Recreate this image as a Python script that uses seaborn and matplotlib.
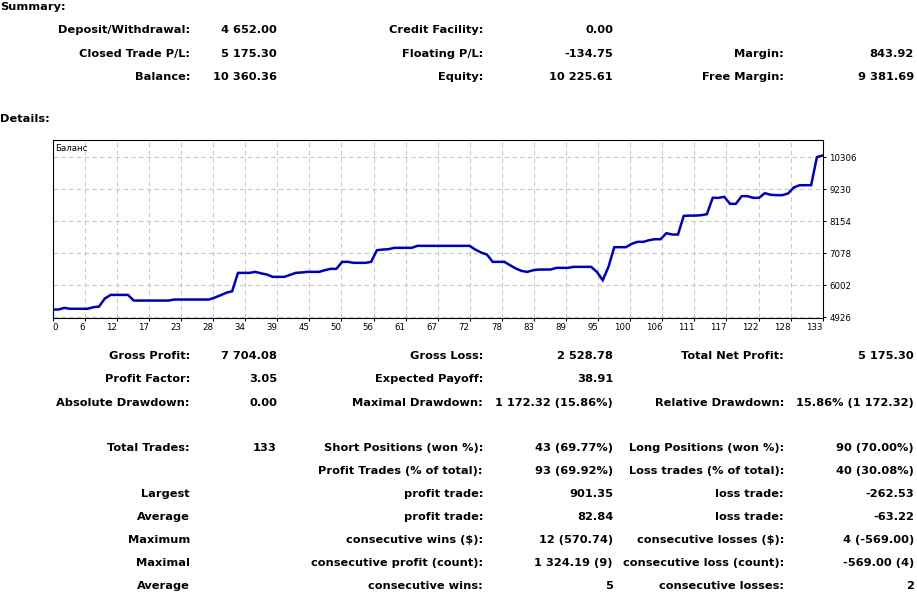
import matplotlib
matplotlib.use("Agg")
import matplotlib.pyplot as plt
import seaborn as sns
import pandas as pd

# ---------------- data ----------------
balance = [
    5185, 5185, 5240, 5210, 5210, 5210, 5210, 5262, 5284, 5553,
    5676, 5676, 5676, 5676, 5486, 5486, 5486, 5486, 5486, 5486,
    5486, 5520, 5520, 5520, 5520, 5520, 5520, 5520, 5587, 5665,
    5750, 5800, 6416, 6416, 6416, 6450, 6400, 6360, 6282, 6282,
    6282, 6350, 6416, 6430, 6450, 6450, 6450, 6506, 6551, 6551,
    6786, 6786, 6753, 6753, 6753, 6786, 7178, 7200, 7212, 7257,
    7257, 7257, 7257, 7324, 7324, 7324, 7324, 7324, 7324, 7324,
    7324, 7324, 7324, 7200, 7100, 7032, 6786, 6786, 6786, 6674,
    6562, 6480, 6450, 6506, 6528, 6528, 6528, 6584, 6584, 6584,
    6618, 6618, 6618, 6618, 6450, 6170, 6618, 7279, 7279, 7279,
    7391, 7458, 7458, 7514, 7547, 7547, 7749, 7704, 7704, 8332,
    8340, 8340, 8354, 8388, 8937, 8937, 8971, 8735, 8735, 8993,
    8993, 8937, 8937, 9094, 9040, 9027, 9027, 9083, 9284, 9362,
    9362, 9362, 10306, 10360.36,
]
y_ticks = [4926, 6002, 7078, 8154, 9230, 10306]
x_labels = ["0", "6", "12", "17", "23", "28", "34", "39", "45", "50", "56", "61",
            "67", "72", "78", "83", "89", "95", "100", "106", "111", "117", "122",
            "128", "133"]
series_name = "Баланс"

summary_labels_1 = ["Deposit/Withdrawal:", "Closed Trade P/L:", "Balance:"]
summary_values_1 = ["4 652.00", "5 175.30", "10 360.36"]
summary_labels_2 = ["Credit Facility:", "Floating P/L:", "Equity:"]
summary_values_2 = ["0.00", "-134.75", "10 225.61"]
summary_labels_3 = ["", "Margin:", "Free Margin:"]
summary_values_3 = ["", "843.92", "9 381.69"]

details_labels_1 = ["Gross Profit:", "Profit Factor:", "Absolute Drawdown:", "Total Trades:", "",
                    "Largest", "Average", "Maximum", "Maximal", "Average"]
details_values_1 = ["7 704.08", "3.05", "0.00", "133", "", "", "", "", "", ""]
details_labels_2 = ["Gross Loss:", "Expected Payoff:", "Maximal Drawdown:", "Short Positions (won %):",
                    "Profit Trades (% of total):", "profit trade:", "profit trade:",
                    "consecutive wins ($):", "consecutive profit (count):", "consecutive wins:"]
details_values_2 = ["2 528.78", "38.91", "1 172.32 (15.86%)", "43 (69.77%)", "93 (69.92%)",
                    "901.35", "82.84", "12 (570.74)", "1 324.19 (9)", "5"]
details_labels_3 = ["Total Net Profit:", "", "Relative Drawdown:", "Long Positions (won %):",
                    "Loss trades (% of total):", "loss trade:", "loss trade:",
                    "consecutive losses ($):", "consecutive loss (count):", "consecutive losses:"]
details_values_3 = ["5 175.30", "", "15.86% (1 172.32)", "90 (70.00%)", "40 (30.08%)",
                    "-262.53", "-63.22", "4 (-569.00)", "-569.00 (4)", "2"]

# ---------------- style ----------------
sns.set_style("white")
plt.rcParams['font.family'] = ['DejaVu Sans']

W, H = 917, 596
fig = plt.figure(figsize=(W / 100, H / 100), dpi=100)
fig.patch.set_facecolor("white")

FS = 8.2
FW = "bold"


def put(x, y, s, ha="right"):
    if s:
        fig.text(x / W, 1 - y / H, s, ha=ha, va="baseline", fontsize=FS,
                 fontweight=FW, color="black")


put(0, 10, "Summary:", ha="left")
put(0, 122.3, "Details:", ha="left")

sum_base = [33.3, 56.6, 80.0]
cols = [(190, 277), (483, 613), (784, 914)]
for lbls, vals, (cx, vx) in zip([summary_labels_1, summary_labels_2, summary_labels_3],
                                [summary_values_1, summary_values_2, summary_values_3], cols):
    for yb, l, v in zip(sum_base, lbls, vals):
        put(cx, yb, l)
        put(vx, yb, v)

det_base = [359, 382.3, 405.7, 451, 474, 497, 520, 543.3, 566, 589.3]
for lbls, vals, (cx, vx) in zip([details_labels_1, details_labels_2, details_labels_3],
                                [details_values_1, details_values_2, details_values_3], cols):
    for yb, l, v in zip(det_base, lbls, vals):
        put(cx, yb, l)
        put(vx, yb, v)

# ---------------- chart ----------------
left, right, top, bottom = 52.7, 822.7, 140.3, 318.3
ax = fig.add_axes([left / W, 1 - bottom / H, (right - left) / W, (bottom - top) / H])
df = pd.DataFrame({"trade": list(range(len(balance))), "balance": balance})
sns.lineplot(data=df, x="trade", y="balance", ax=ax, color="#0000b4",
             linewidth=1.8, solid_joinstyle="miter")
ax.set_xlabel("")
ax.set_ylabel("")
ax.set_xlim(0, len(balance) - 1)
ax.set_ylim(4890, 10870)

ax.set_yticks(y_ticks)
ax.set_yticklabels([str(v) for v in y_ticks])
ax.yaxis.tick_right()
xt = [(len(balance) - 1) * k / (len(x_labels) - 1) for k in range(len(x_labels))]
ax.set_xticks(xt)
ax.set_xticklabels(x_labels)
for i, lab in enumerate(ax.get_xticklabels()):
    lab.set_ha("left" if i == 0 else "right")

ax.tick_params(axis="both", which="both", direction="out", length=2.2, width=0.75,
               labelsize=6.2, colors="black", pad=1.5)
ax.tick_params(axis="y", pad=2.5, left=False, right=True)
ax.tick_params(axis="x", bottom=True, top=False)
ax.grid(True, color="#c8c8c8", linestyle=(0, (4, 3)), linewidth=0.8)
for sp in ax.spines.values():
    sp.set_visible(True)
    sp.set_color("black")
    sp.set_linewidth(0.8)

ax.text(0.003, 0.955, series_name, transform=ax.transAxes, ha="left", va="center",
        fontsize=6.2, color="black")

fig.savefig("out.png", dpi=100, facecolor="white")
